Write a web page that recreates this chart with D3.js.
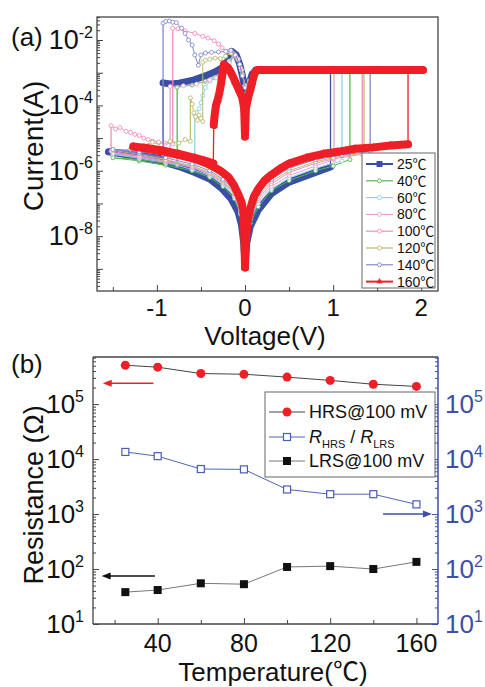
<!DOCTYPE html>
<html>
<head>
<meta charset="utf-8">
<title>I-V curves and resistance vs temperature</title>
<script src="https://cdnjs.cloudflare.com/ajax/libs/d3/7.8.5/d3.min.js"></script>
<style>
    body { margin: 0; background: #fff; }
    svg text { font-family: "Liberation Sans", Arial, "Noto Sans CJK SC", sans-serif; fill: #111; }
</style>
</head>
<body>
<div id="chart"></div>
<script>
// ---- panel (a): I-V sweeps. Each series is a list of measured segments of [V, I(A)];
// consecutive segments are joined by a thin line (the set / reset jumps).
const iv25 = [
    [[0,1.5e-9],[-0.015,6.3e-9],[-0.04,2.2e-8],[-0.08,5.6e-8],[-0.16,1.4e-7],[-0.26,2.8e-7],[-0.4,5.6e-7],[-0.57,8.9e-7],[-0.75,1.35e-6],[-0.94,1.9e-6],[-1.1,2.3e-6],[-1.3,3.0e-6],[-1.55,3.8e-6],[-1.3,3.3e-6],[-1.1,2.7e-6],[-0.93,2.3e-6]],
    [[-0.93,4.9e-4],[-0.85,4.5e-4],[-0.75,4.8e-4],[-0.6,5.8e-4],[-0.45,8e-4],[-0.33,1.1e-3],[-0.26,1.4e-3],[-0.2,2.2e-3],[-0.15,4.5e-3],[-0.1,3.5e-3],[-0.06,1.8e-3],[-0.03,8e-4],[0,3e-4],[0.02,2.2e-4],[0.05,5e-4],[0.08,9e-4],[0.12,1.2e-3],[0.5,1.2e-3],[0.97,1.2e-3]],
    [[0.97,1.3e-6],[0.8,8.9e-7],[0.5,4.5e-7],[0.3,2.0e-7],[0.15,6.3e-8],[0.06,2.0e-8],[0.02,6.3e-9],[0,1.5e-9]]
];
const iv40 = [
    [[0,1.5e-9],[-0.02,1.26e-8],[-0.05,4.5e-8],[-0.12,1.4e-7],[-0.25,3.3e-7],[-0.4,6.3e-7],[-0.6,1.0e-6],[-0.9,1.5e-6],[-1.2,2.0e-6],[-1.5,2.5e-6],[-1.2,2.2e-6],[-0.9,1.7e-6],[-0.77,1.5e-6]],
    [[-0.77,3.6e-4],[-0.6,4.2e-4],[-0.45,5.5e-4],[-0.35,7e-4],[-0.25,1.2e-3],[-0.18,2.3e-3],[-0.13,3.8e-3],[-0.08,2.5e-3],[-0.04,1.2e-3],[0,4e-4],[0.02,2.4e-4],[0.05,5.5e-4],[0.1,1.1e-3],[0.14,1.2e-3],[0.6,1.2e-3],[1.19,1.2e-3]],
    [[1.19,2.2e-6],[1.0,1.4e-6],[0.8,1.0e-6],[0.5,5e-7],[0.3,2.5e-7],[0.15,7.9e-8],[0.06,2.5e-8],[0.02,7.9e-9],[0,1.5e-9]]
];
const iv60 = [
    [[0,1.5e-9],[-0.02,1.4e-8],[-0.05,5e-8],[-0.12,1.6e-7],[-0.25,3.8e-7],[-0.4,7.1e-7],[-0.6,1.1e-6],[-0.9,1.8e-6],[-1.2,2.4e-6],[-1.5,3.2e-6],[-1.2,2.6e-6],[-0.9,2.0e-6],[-0.57,1.4e-6]],
    [[-0.57,5e-5],[-0.55,6e-5],[-0.52,8e-5],[-0.5,1.2e-4],[-0.48,2e-4],[-0.45,3.5e-4],[-0.4,5.5e-4],[-0.33,7e-4],[-0.25,1.1e-3],[-0.18,2.2e-3],[-0.13,3.6e-3],[-0.08,2.5e-3],[-0.04,1.2e-3],[0,4e-4],[0.02,2.3e-4],[0.05,5.5e-4],[0.1,1.1e-3],[0.14,1.2e-3],[0.6,1.2e-3],[1.10,1.2e-3]],
    [[1.10,2.0e-6],[0.8,1.2e-6],[0.5,6e-7],[0.3,2.8e-7],[0.15,1e-7],[0.06,3.2e-8],[0.02,1e-8],[0,1.5e-9]]
];
const iv80 = [
    [[0,1.5e-9],[-0.02,1.6e-8],[-0.05,5.6e-8],[-0.12,1.8e-7],[-0.25,4.2e-7],[-0.4,7.9e-7],[-0.6,1.26e-6],[-0.9,1.9e-6],[-1.2,2.6e-6],[-1.5,3.5e-6],[-1.2,2.9e-6],[-0.85,2.2e-6]],
    [[-0.85,3.8e-4],[-0.7,4e-4],[-0.55,4.5e-4],[-0.4,6e-4],[-0.26,1e-3],[-0.18,2e-3],[-0.12,3.5e-3],[-0.08,2.6e-3],[-0.04,1.2e-3],[0,4e-4],[0.02,2.3e-4],[0.05,5.5e-4],[0.1,1.1e-3],[0.14,1.2e-3],[0.6,1.2e-3],[1.01,1.2e-3]],
    [[1.01,2.2e-6],[0.8,1.4e-6],[0.5,7.1e-7],[0.3,3.3e-7],[0.15,1.2e-7],[0.06,3.5e-8],[0.02,1e-8],[0,1.5e-9]]
];
const iv100 = [
    [[0,1.5e-9],[-0.02,1.8e-8],[-0.05,6.3e-8],[-0.12,2e-7],[-0.25,4.5e-7],[-0.4,8.3e-7],[-0.6,1.3e-6],[-0.9,2e-6],[-1.2,2.8e-6],[-1.52,4e-6]],
    [[-1.52,2.4e-5],[-1.47,1.9e-5],[-1.42,2.1e-5],[-1.35,1.6e-5],[-1.3,1.5e-5],[-1.25,1.3e-5],[-1.2,1.2e-5],[-1.15,1.0e-5],[-1.1,9e-6],[-1.05,8e-6],[-0.98,7.5e-6],[-0.9,7e-6],[-0.82,6.5e-6]],
    [[-0.82,2.3e-2],[-0.76,2.2e-2],[-0.68,1.9e-2],[-0.57,1.6e-2],[-0.48,1.3e-2],[-0.42,1.15e-2],[-0.35,9.5e-3],[-0.3,7.5e-3],[-0.26,5.8e-3],[-0.2,4.5e-3],[-0.15,4.2e-3],[-0.1,3e-3],[-0.05,1.4e-3],[0,4e-4],[0.02,2.2e-4],[0.05,5.5e-4],[0.1,1.1e-3],[0.14,1.2e-3],[0.7,1.2e-3],[1.33,1.2e-3]],
    [[1.33,3.2e-6],[1.0,2.3e-6],[0.8,1.7e-6],[0.5,8.9e-7],[0.3,4e-7],[0.15,1.4e-7],[0.06,4e-8],[0.02,1.1e-8],[0,1.5e-9]]
];
const iv120 = [
    [[0,1.5e-9],[-0.02,2e-8],[-0.05,7.1e-8],[-0.12,2.2e-7],[-0.25,5e-7],[-0.4,8.9e-7],[-0.6,1.4e-6],[-0.9,2.2e-6],[-1.2,3.2e-6],[-1.5,4.2e-6],[-1.3,4.5e-6],[-1.15,6e-6],[-1.05,7.5e-6],[-0.95,6e-6],[-0.85,8e-6],[-0.75,7e-6],[-0.68,9e-6],[-0.62,8e-6]],
    [[-0.62,1.7e-4],[-0.6,1.1e-4],[-0.58,6e-5],[-0.56,4.5e-5],[-0.54,3.5e-5],[-0.52,5e-5],[-0.5,4e-5],[-0.48,3.2e-5],[-0.48,2.1e-3],[-0.45,2.4e-3],[-0.4,2.6e-3],[-0.34,2.8e-3],[-0.28,2.7e-3],[-0.22,3.2e-3],[-0.16,4e-3],[-0.11,3.3e-3],[-0.06,1.8e-3],[-0.03,9e-4],[0,4e-4],[0.02,2.3e-4],[0.05,5.5e-4],[0.1,1.1e-3],[0.14,1.2e-3],[0.7,1.2e-3],[1.35,1.2e-3]],
    [[1.35,3.5e-6],[1.0,2.5e-6],[0.8,1.9e-6],[0.5,1e-6],[0.3,4.7e-7],[0.15,1.66e-7],[0.06,4.5e-8],[0.02,1.26e-8],[0,1.5e-9]]
];
const iv140 = [
    [[0,1.5e-9],[-0.02,2.2e-8],[-0.05,7.9e-8],[-0.12,2.5e-7],[-0.25,5.5e-7],[-0.4,1e-6],[-0.6,1.6e-6],[-0.9,2.5e-6],[-1.2,3.4e-6],[-1.5,4.5e-6],[-1.2,3.8e-6],[-0.93,3.2e-6]],
    [[-0.93,3.3e-2],[-0.9,3.7e-2],[-0.86,3.8e-2],[-0.82,3.5e-2],[-0.78,3.4e-2],[-0.72,2.3e-2],[-0.68,1.6e-2],[-0.64,1.0e-2],[-0.6,7e-3],[-0.57,3.5e-3],[-0.53,1.7e-3],[-0.5,3.5e-3],[-0.45,4e-3],[-0.38,4.2e-3],[-0.3,4.3e-3],[-0.22,4.5e-3],[-0.16,4.8e-3],[-0.11,3.5e-3],[-0.06,1.8e-3],[-0.03,8e-4],[0,3.5e-4],[0.02,2.2e-4],[0.05,5e-4],[0.1,1.05e-3],[0.14,1.2e-3],[0.8,1.2e-3],[1.42,1.2e-3]],
    [[1.42,4e-6],[1.1,3e-6],[0.8,2.2e-6],[0.5,1.2e-6],[0.3,5.4e-7],[0.15,2e-7],[0.06,5e-8],[0.02,1.4e-8],[0,1.5e-9]]
];
const iv160 = [
    [[0,1.1e-9],[-0.01,1.6e-8],[-0.02,6e-8],[-0.04,1.1e-7],[-0.08,2e-7],[-0.13,3.8e-7],[-0.19,6.5e-7],[-0.28,1e-6],[-0.375,1.4e-6],[-0.45,1.74e-6],[-0.57,2.3e-6],[-0.75,3e-6],[-0.94,3.9e-6],[-1.1,4.7e-6],[-1.27,5.5e-6],[-1.1,4.9e-6],[-0.94,4.2e-6],[-0.75,3.3e-6],[-0.57,2.5e-6],[-0.45,2e-6],[-0.36,1.7e-6]],
    [[-0.355,2.5e-5],[-0.345,5e-5],[-0.33,1e-4],[-0.31,1.5e-4],[-0.29,2.5e-4],[-0.27,5e-4],[-0.255,1e-3],[-0.24,1.8e-3],[-0.19,1.4e-3],[-0.15,9e-4],[-0.11,5.2e-4],[-0.07,3e-4],[-0.03,1.7e-4],[-0.01,8e-5],[0,1.1e-5],[0.01,8e-5],[0.034,1.7e-4],[0.06,3e-4],[0.08,5e-4],[0.11,1e-3],[0.14,1.2e-3],[0.5,1.2e-3],[1.0,1.2e-3],[1.5,1.2e-3],[2.02,1.2e-3],[1.85,1.2e-3]],
    [[1.85,6.5e-6],[1.65,5.9e-6],[1.46,5.2e-6],[1.25,4.7e-6],[1.05,3.8e-6],[0.89,3.3e-6],[0.7,2.5e-6],[0.5,1.66e-6],[0.4,1.17e-6],[0.3,7.6e-7],[0.22,5e-7],[0.15,2.8e-7],[0.1,1.6e-7],[0.06,7.1e-8],[0.04,4e-8],[0.02,1.6e-8],[0.01,6.3e-9],[0,1.1e-9]]
];
const ivLabels = ['25℃', '40℃', '60℃', '80℃', '100℃', '120℃', '140℃', '160℃'];
const voltTicks = [-1, 0, 1, 2];
const voltMinor = [-1.5, -0.5, 0.5, 1.5];
const currentDecades = [-2, -4, -6, -8];

// ---- panel (b): resistance vs temperature
const temps = [25, 40, 60, 80, 100, 120, 140, 160];
const hrsOhm = [5.1e5, 4.7e5, 3.6e5, 3.5e5, 3.1e5, 2.7e5, 2.3e5, 2.1e5];
const ratio = [1.35e4, 1.13e4, 6.6e3, 6.5e3, 2.8e3, 2.3e3, 2.3e3, 1.5e3];
const lrsOhm = [38, 41.5, 55, 53, 109, 113, 100, 135];
const tempTicks = [40, 80, 120, 160];
const tempMinor = [20, 60, 100, 140];
const resDecades = [1, 2, 3, 4, 5];

const svg = d3.select('#chart').append('svg')
    .attr('width', 485).attr('height', 687);

function powLabel(g, x, y, exp, anchor, color, size) {
    const t = g.append('text')
        .attr('x', x).attr('y', y)
        .attr('text-anchor', anchor)
        .style('font-size', size + 'px')
        .style('fill', color);
    t.append('tspan').text('10');
    t.append('tspan').attr('dy', -size * 0.42).style('font-size', Math.round(size * 0.6) + 'px').text(exp);
}

function drawMarker(g, shape, x, y, color, s) {
    if (shape === 'square') {
        g.append('rect').attr('x', x - s / 2).attr('y', y - s / 2).attr('width', s).attr('height', s).attr('fill', color);
    } else if (shape === 'triangle') {
        g.append('path').attr('d', d3.symbol(d3.symbolTriangle, s * s * 0.45)()).attr('transform', `translate(${x},${y})`).attr('fill', color);
    } else if (shape === 'circle') {
        g.append('circle').attr('cx', x).attr('cy', y).attr('r', s / 2).attr('fill', color);
    } else if (shape === 'opensquare') {
        g.append('rect').attr('x', x - s / 2).attr('y', y - s / 2).attr('width', s).attr('height', s).attr('fill', '#fff').attr('stroke', color).attr('stroke-width', 1.2);
    } else {
        g.append('circle').attr('cx', x).attr('cy', y).attr('r', s / 2).attr('fill', '#fff').attr('stroke', color).attr('stroke-width', 0.9);
    }
}

// ================= panel (a) =================
const A = {left: 97, right: 438, top: 17, bottom: 291};
const xA = d3.scaleLinear().domain([-1.68, 2.19]).range([A.left, A.right]);
const yA = d3.scaleLog().domain([2.1e-10, 5.06e-2]).range([A.bottom, A.top]);

svg.append('clipPath').attr('id', 'clipA').append('rect')
    .attr('x', A.left).attr('y', A.top).attr('width', A.right - A.left).attr('height', A.bottom - A.top);

const ivSeries = [
    {segs: iv25, color: '#3a4fa3', marker: 'square', width: 7, size: 5},
    {segs: iv40, color: '#55b94f', marker: 'open', width: 1, size: 4},
    {segs: iv60, color: '#8fd2ea', marker: 'open', width: 1, size: 4},
    {segs: iv80, color: '#e2a4d8', marker: 'open', width: 1, size: 4},
    {segs: iv100, color: '#f48cbe', marker: 'open', width: 1, size: 4},
    {segs: iv120, color: '#bcbb72', marker: 'open', width: 1, size: 4},
    {segs: iv140, color: '#8489cf', marker: 'open', width: 1, size: 4},
    {segs: iv160, color: '#ee1f26', marker: 'triangle', width: 8, size: 8}
];

const gA = svg.append('g').attr('clip-path', 'url(#clipA)');
const ivLine = d3.line().x(d => xA(d[0])).y(d => yA(d[1]));

ivSeries.forEach(s => {
    const g = gA.append('g');
    s.segs.forEach((seg, i) => {
        if (i > 0) {
            const p = s.segs[i - 1][s.segs[i - 1].length - 1];
            g.append('line')
                .attr('x1', xA(p[0])).attr('y1', yA(p[1]))
                .attr('x2', xA(seg[0][0])).attr('y2', yA(seg[0][1]))
                .attr('stroke', s.color).attr('stroke-width', 1.3);
        }
        g.append('path').attr('d', ivLine(seg))
            .attr('fill', 'none').attr('stroke', s.color)
            .attr('stroke-width', s.width)
            .attr('stroke-linejoin', 'round').attr('stroke-linecap', 'round');
    });
    s.segs.forEach(seg => seg.forEach(p => drawMarker(g, s.marker, xA(p[0]), yA(p[1]), s.color, s.size)));
});

// frame + ticks (a)
svg.append('rect').attr('x', A.left).attr('y', A.top)
    .attr('width', A.right - A.left).attr('height', A.bottom - A.top)
    .attr('fill', 'none').attr('stroke', '#444').attr('stroke-width', 1.3);

const yAll = yA.ticks(40);
svg.append('g').attr('transform', `translate(${A.left},0)`)
    .call(d3.axisRight(yA).tickValues(yAll.filter(v => Math.abs(Math.log10(v) - Math.round(Math.log10(v))) > 1e-6)).tickSize(3).tickFormat(''))
    .call(g => g.select('.domain').remove());
svg.append('g').attr('transform', `translate(${A.left},0)`)
    .call(d3.axisRight(yA).tickValues(d3.range(-9, -1).map(k => Math.pow(10, k))).tickSize(6).tickFormat(''))
    .call(g => g.select('.domain').remove());
svg.append('g').attr('transform', `translate(0,${A.bottom})`)
    .call(d3.axisTop(xA).tickValues(voltTicks).tickSize(6).tickFormat(''))
    .call(g => g.select('.domain').remove());
svg.append('g').attr('transform', `translate(0,${A.bottom})`)
    .call(d3.axisTop(xA).tickValues(voltMinor).tickSize(4).tickFormat(''))
    .call(g => g.select('.domain').remove());
svg.selectAll('.tick line').attr('stroke', '#444');

currentDecades.forEach(k => powLabel(svg, 93, yA(Math.pow(10, k)) + 9, String(k), 'end', '#111', 27));
voltTicks.forEach(v => svg.append('text').attr('x', xA(v)).attr('y', 316)
    .attr('text-anchor', 'middle').style('font-size', '24px').text(v));

svg.append('text').attr('x', 265).attr('y', 345).attr('text-anchor', 'middle')
    .style('font-size', '26px').text('Voltage(V)');
svg.append('text').attr('transform', 'translate(43,146) rotate(-90)').attr('text-anchor', 'middle')
    .style('font-size', '28px').text('Current(A)');
svg.append('text').attr('x', 11).attr('y', 46).style('font-size', '26px').text('(a)');

// legend (a)
const legA = svg.append('g');
legA.append('rect').attr('x', 362).attr('y', 153).attr('width', 73).attr('height', 135)
    .attr('fill', '#fff').attr('stroke', '#666').attr('stroke-width', 1);
ivSeries.forEach((s, i) => {
    const y = 164 + i * 16.8;
    legA.append('line').attr('x1', 366).attr('x2', 393).attr('y1', y).attr('y2', y)
        .attr('stroke', s.color).attr('stroke-width', s.width > 2 ? 2 : 1.2);
    drawMarker(legA, s.marker, 379.5, y, s.color, s.marker === 'open' ? 4 : 6);
    legA.append('text').attr('x', 397).attr('y', y + 5).style('font-size', '14px').text(ivLabels[i]);
});

// ================= panel (b) =================
const B = {left: 93, right: 438, top: 357, bottom: 624};
const xB = d3.scaleLinear().domain([10, 170]).range([B.left, B.right]);
const yB = d3.scaleLog().domain([10, 7.2e5]).range([B.bottom, B.top]);
const blueAxis = '#3d4fa6';

const resLine = vals => d3.line().x((d, i) => xB(temps[i])).y(d => yB(d))(vals);
const gB = svg.append('g');
gB.append('path').attr('d', resLine(hrsOhm)).attr('fill', 'none').attr('stroke', '#444').attr('stroke-width', 1);
gB.append('path').attr('d', resLine(ratio)).attr('fill', 'none').attr('stroke', '#5163b8').attr('stroke-width', 1);
gB.append('path').attr('d', resLine(lrsOhm)).attr('fill', 'none').attr('stroke', '#777').attr('stroke-width', 1);
temps.forEach((t, i) => {
    drawMarker(gB, 'circle', xB(t), yB(hrsOhm[i]), '#ee1f26', 9);
    drawMarker(gB, 'opensquare', xB(t), yB(ratio[i]), '#4a5cb4', 7);
    drawMarker(gB, 'square', xB(t), yB(lrsOhm[i]), '#111', 8);
});

// arrows pointing to the axis each curve belongs to
function arrow(x0, x1, v, color) {
    const y = yB(v), a = xB(x0), b = xB(x1), dir = b > a ? 1 : -1;
    svg.append('line').attr('x1', a).attr('x2', b - dir * 6).attr('y1', y).attr('y2', y)
        .attr('stroke', color).attr('stroke-width', 1.5);
    svg.append('path').attr('d', `M${b},${y} L${b - dir * 9},${y - 3.5} L${b - dir * 9},${y + 3.5} Z`).attr('fill', color);
}
arrow(38, 14.5, 2.4e5, '#ee1f26');
arrow(38.7, 14, 75, '#111');
arrow(144.5, 167.2, 1000, blueAxis);

// frame + ticks (b)
svg.append('line').attr('x1', B.left).attr('x2', B.right).attr('y1', B.top).attr('y2', B.top).attr('stroke', '#444').attr('stroke-width', 1.3);
svg.append('line').attr('x1', B.left).attr('x2', B.right).attr('y1', B.bottom).attr('y2', B.bottom).attr('stroke', '#444').attr('stroke-width', 1.3);
svg.append('line').attr('x1', B.left).attr('x2', B.left).attr('y1', B.top).attr('y2', B.bottom).attr('stroke', '#444').attr('stroke-width', 1.3);
svg.append('line').attr('x1', B.right).attr('x2', B.right).attr('y1', B.top).attr('y2', B.bottom).attr('stroke', blueAxis).attr('stroke-width', 1.5);

const bMinor = yB.ticks(40).filter(v => Math.abs(Math.log10(v) - Math.round(Math.log10(v))) > 1e-6);
const bMajor = resDecades.map(k => Math.pow(10, k));
[[d3.axisRight, B.left, '#444'], [d3.axisLeft, B.right, blueAxis]].forEach(([ax, x, c]) => {
    svg.append('g').attr('transform', `translate(${x},0)`)
        .call(ax(yB).tickValues(bMinor).tickSize(3).tickFormat(''))
        .call(g => g.select('.domain').remove())
        .selectAll('line').attr('stroke', c);
    svg.append('g').attr('transform', `translate(${x},0)`)
        .call(ax(yB).tickValues(bMajor).tickSize(6).tickFormat(''))
        .call(g => g.select('.domain').remove())
        .selectAll('line').attr('stroke', c);
});
svg.append('g').attr('transform', `translate(0,${B.bottom})`)
    .call(d3.axisTop(xB).tickValues(tempTicks).tickSize(6).tickFormat(''))
    .call(g => g.select('.domain').remove())
    .selectAll('line').attr('stroke', '#444');
svg.append('g').attr('transform', `translate(0,${B.bottom})`)
    .call(d3.axisTop(xB).tickValues(tempMinor).tickSize(4).tickFormat(''))
    .call(g => g.select('.domain').remove())
    .selectAll('line').attr('stroke', '#444');

resDecades.forEach(k => {
    powLabel(svg, 84, yB(Math.pow(10, k)) + 9, String(k), 'end', '#111', 26);
    powLabel(svg, 445, yB(Math.pow(10, k)) + 9, String(k), 'start', blueAxis, 26);
});
tempTicks.forEach(t => svg.append('text').attr('x', xB(t)).attr('y', 652)
    .attr('text-anchor', 'middle').style('font-size', '25px').text(t));

svg.append('text').attr('x', 273).attr('y', 681).attr('text-anchor', 'middle')
    .style('font-size', '26px').text('Temperature(℃)');
svg.append('text').attr('transform', 'translate(43,495) rotate(-90)').attr('text-anchor', 'middle')
    .style('font-size', '27px').text('Resistance (Ω)');
svg.append('text').attr('x', 11).attr('y', 373).style('font-size', '26px').text('(b)');

// legend (b)
const legB = svg.append('g');
legB.append('rect').attr('x', 265).attr('y', 392).attr('width', 170).attr('height', 85)
    .attr('fill', '#fff').attr('stroke', '#666').attr('stroke-width', 1);
const legRows = [
    {y: 412, line: '#444', marker: 'circle', color: '#ee1f26', size: 9},
    {y: 437, line: '#5163b8', marker: 'opensquare', color: '#4a5cb4', size: 7},
    {y: 461, line: '#777', marker: 'square', color: '#111', size: 8}
];
legRows.forEach(r => {
    legB.append('line').attr('x1', 269).attr('x2', 305).attr('y1', r.y).attr('y2', r.y).attr('stroke', r.line).attr('stroke-width', 1);
    drawMarker(legB, r.marker, 287, r.y, r.color, r.size);
});
legB.append('text').attr('x', 309).attr('y', 418).style('font-size', '18px').text('HRS@100 mV');
const rt = legB.append('text').attr('x', 309).attr('y', 443).style('font-size', '18px');
rt.append('tspan').style('font-style', 'italic').text('R');
rt.append('tspan').attr('dy', 5).style('font-size', '11px').text('HRS');
rt.append('tspan').attr('dy', -5).text(' / ');
rt.append('tspan').style('font-style', 'italic').text('R');
rt.append('tspan').attr('dy', 5).style('font-size', '11px').text('LRS');
legB.append('text').attr('x', 309).attr('y', 467).style('font-size', '18px').text('LRS@100 mV');
</script>
</body>
</html>
